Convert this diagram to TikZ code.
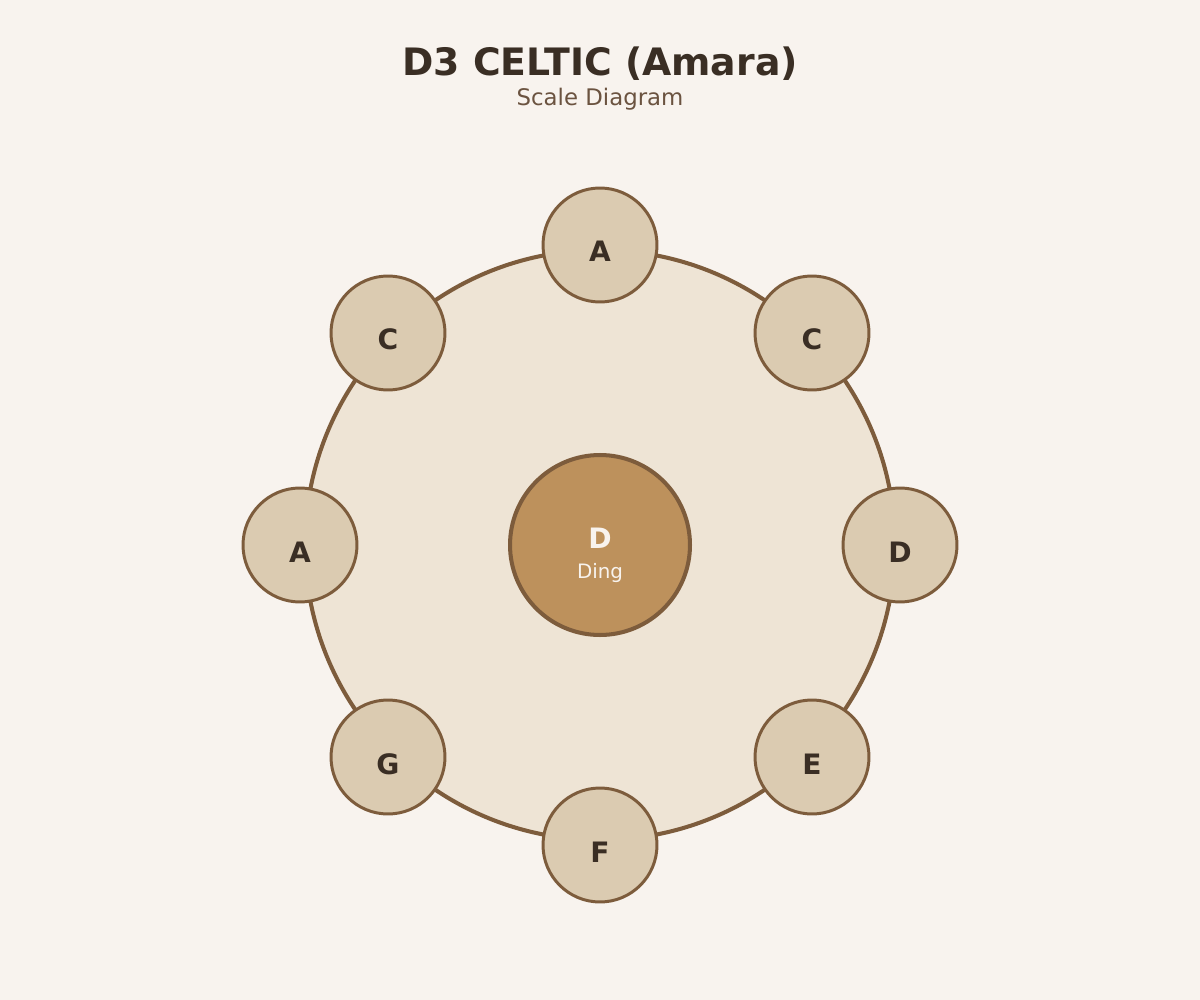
\documentclass[tikz,border=0pt]{standalone}
\usepackage{fontspec}
\setmainfont{DejaVu Sans}
\begin{document}
\begin{tikzpicture}[x=0.02cm,y=-0.02cm]
\definecolor{fond}{HTML}{F8F3EE}
\definecolor{plateau}{HTML}{EEE4D5}
\definecolor{bord}{HTML}{7D5C3C}
\definecolor{champ}{HTML}{DBCBB1}
\definecolor{ding}{HTML}{BD915C}
\definecolor{encre}{HTML}{3A2E24}
\definecolor{sous}{HTML}{6B5340}
\tikzset{ton/.style={circle,draw=bord,fill=champ,line width=1.7pt,minimum size=2.28cm,inner sep=0pt},
  note/.style={anchor=base,text=encre,font=\fontsize{16}{16}\selectfont\bfseries}}

\fill[fond] (0,0) rectangle (1200,1000); %le fond
\useasboundingbox (0,0) rectangle (1200,1000);

\node [anchor=base,text=encre,font=\fontsize{21.5}{21.5}\selectfont\bfseries] (titre) at (600,76) {D3 CELTIC (Amara)};
\node [anchor=base,text=sous,font=\fontsize{13}{13}\selectfont] (soustitre) at (600,106) {Scale Diagram};

\node [circle,draw=bord,fill=plateau,line width=2.3pt,minimum size=11.8cm] (caisse) at (600,545) {}; %le plateau

%les champs de notes
\node [ton] (t1) at (600,245) {};
\node [note] at ([yshift=-0.34cm]t1.center) {A};
\node [ton] (t2) at (812,333) {};
\node [note] at ([yshift=-0.34cm]t2.center) {C};
\node [ton] (t3) at (900,545) {};
\node [note] at ([yshift=-0.34cm]t3.center) {D};
\node [ton] (t4) at (812,757) {};
\node [note] at ([yshift=-0.34cm]t4.center) {E};
\node [ton] (t5) at (600,845) {};
\node [note] at ([yshift=-0.34cm]t5.center) {F};
\node [ton] (t6) at (388,757) {};
\node [note] at ([yshift=-0.34cm]t6.center) {G};
\node [ton] (t7) at (300,545) {};
\node [note] at ([yshift=-0.34cm]t7.center) {A};
\node [ton] (t8) at (388,333) {};
\node [note] at ([yshift=-0.34cm]t8.center) {C};

%le ding
\node [circle,draw=bord,fill=ding,line width=2.3pt,minimum size=3.6cm,inner sep=0pt] (d) at (600,545) {};
\node [anchor=base,text=fond,font=\fontsize{16}{16}\selectfont\bfseries] at (600,548) {D};
\node [anchor=base,text=fond,font=\fontsize{11.3}{11.3}\selectfont] at (600,578) {Ding};

\end{tikzpicture}
\end{document}
